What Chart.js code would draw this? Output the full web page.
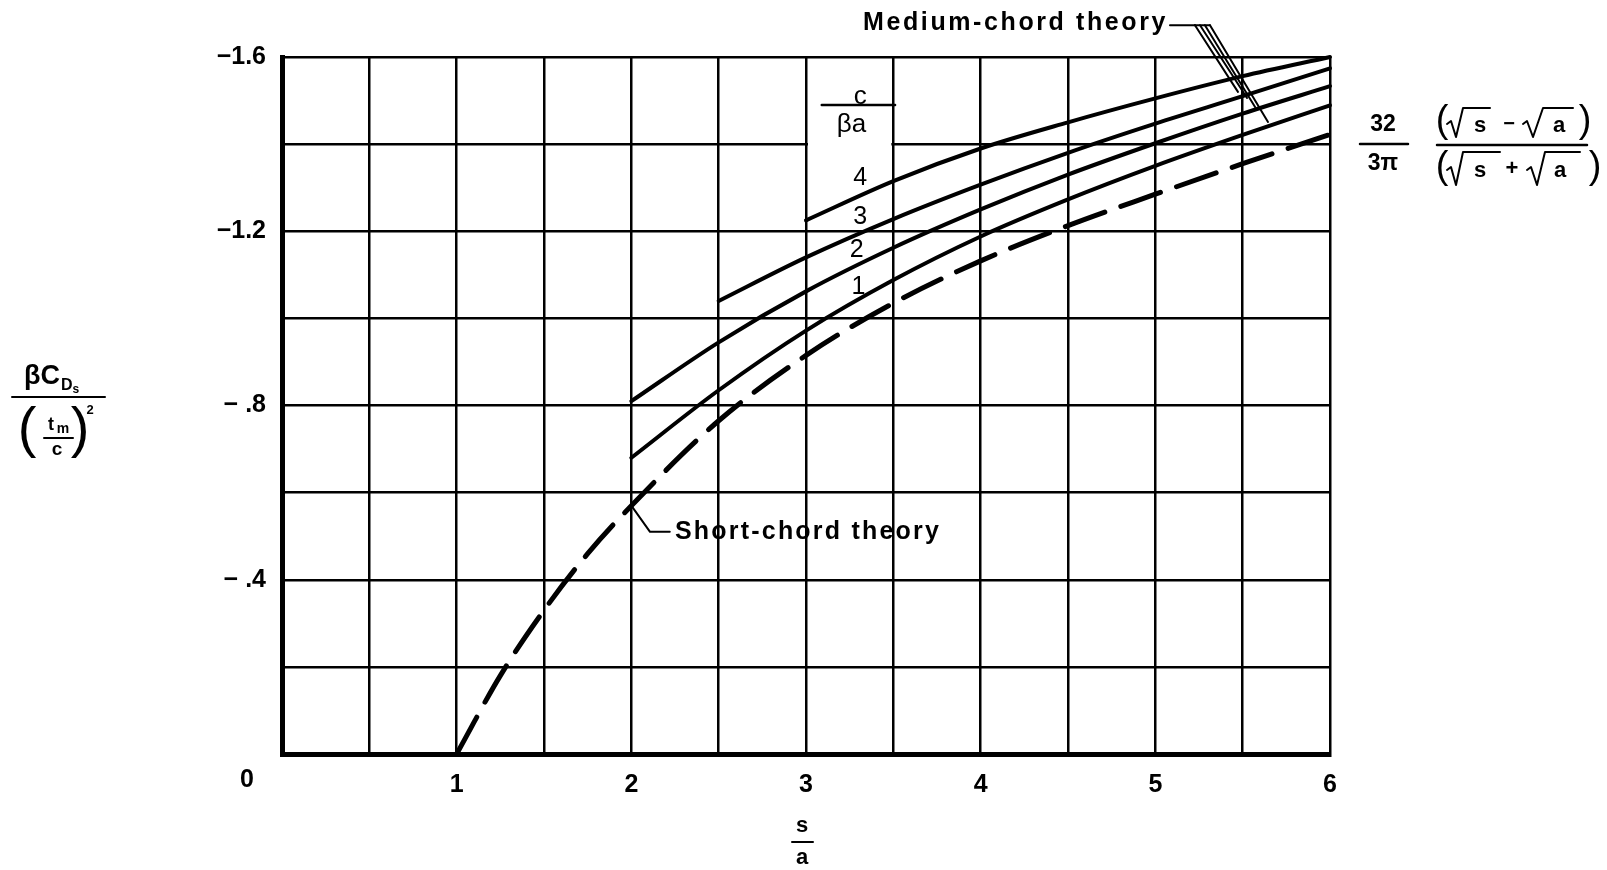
<!DOCTYPE html>
<html>
<head>
<meta charset="utf-8">
<script src="https://cdn.jsdelivr.net/npm/chart.js@4.4.0/dist/chart.umd.min.js"></script>
<style>
html,body{margin:0;padding:0;background:#fff;overflow:hidden}
#wrap{width:1607px;height:870px;position:relative;background:#fff}
</style>
</head>
<body>
<div id="wrap"><canvas id="c" width="1607" height="870"></canvas></div>
<script>
// ---- data ----
const sShort = [1, 1.25, 1.5, 1.75, 2, 2.5, 3, 3.5, 4, 4.5, 5, 5.5, 6];
const shortChord = [0, -0.18, -0.33, -0.46, -0.57, -0.765, -0.915, -1.035, -1.132, -1.213, -1.285, -1.355, -1.422];

const sMed1 = [2, 2.5, 3, 3.5, 4, 4.5, 5, 5.5, 6];
const medium1 = [-0.68, -0.835, -0.972, -1.088, -1.188, -1.273, -1.35, -1.421, -1.489];

const sMed2 = [2, 2.5, 3, 3.5, 4, 4.5, 5, 5.5, 6];
const medium2 = [-0.81, -0.945, -1.062, -1.162, -1.25, -1.33, -1.402, -1.47, -1.533];

const sMed3 = [2.5, 3, 3.5, 4, 4.5, 5, 5.5, 6];
const medium3 = [-1.04, -1.14, -1.228, -1.307, -1.38, -1.447, -1.51, -1.574];

const sMed4 = [3, 3.5, 4, 4.5, 5, 5.5, 6];
const medium4 = [-1.225, -1.315, -1.39, -1.45, -1.505, -1.556, -1.60];

const xTickLabels = {1:'1', 2:'2', 3:'3', 4:'4', 5:'5', 6:'6'};
const yTickLabels = {'-1.6':'−1.6', '-1.2':'−1.2', '-0.8':'− .8', '-0.4':'− .4'};
const curveLabels = ['4', '3', '2', '1'];
const curveLabelPos = [[3.31, -1.322], [3.31, -1.233], [3.29, -1.157], [3.30, -1.072]];

const FONT = '"Liberation Sans", Arial, sans-serif';

function pts(xs, ys){ return xs.map((x,i)=>({x:x, y:ys[i]})); }

function txt(ctx, s, x, y, font, align, base, ls){
  ctx.save();
  ctx.font = font; ctx.textAlign = align || 'center'; ctx.textBaseline = base || 'middle';
  ctx.letterSpacing = ls || '0px';
  ctx.fillStyle = '#000';
  ctx.fillText(s, x, y);
  const w = ctx.measureText(s).width;
  ctx.restore();
  return w;
}
function poly(ctx, p, w){
  ctx.save();
  ctx.strokeStyle = '#000'; ctx.lineWidth = w; ctx.lineCap = 'round'; ctx.lineJoin = 'round';
  ctx.beginPath();
  p.forEach((q,i)=> i ? ctx.lineTo(q[0], q[1]) : ctx.moveTo(q[0], q[1]));
  ctx.stroke();
  ctx.restore();
}

const annot = {
  id: 'annot',
  beforeDatasetsDraw(chart){
    const ctx = chart.ctx, xs = chart.scales.x, ys = chart.scales.y;
    // white label box between s=3 and s=3.5 at the top
    const x0 = xs.getPixelForValue(3) + 2, x1 = xs.getPixelForValue(3.5) - 2;
    const y0 = ys.getPixelForValue(-1.6) + 2, y1 = ys.getPixelForValue(-1.27);
    ctx.save(); ctx.fillStyle = '#fff'; ctx.fillRect(x0, y0, x1 - x0, y1 - y0); ctx.restore();
  },
  afterDraw(chart){
    const ctx = chart.ctx, xs = chart.scales.x, ys = chart.scales.y;
    const P = (s, v) => [xs.getPixelForValue(s), ys.getPixelForValue(v)];

    // c / (beta a) label
    let p = P(3.31, -1.508); txt(ctx, 'c', p[0], p[1], '26px ' + FONT);
    let a = P(3.09, -1.49), b = P(3.51, -1.49); poly(ctx, [a, b], 2.5);
    p = P(3.26, -1.444); txt(ctx, 'βa', p[0], p[1], '26px ' + FONT);
    curveLabels.forEach((l, i) => {
      const q = P(curveLabelPos[i][0], curveLabelPos[i][1]);
      txt(ctx, l, q[0], q[1], '25px ' + FONT);
    });

    // Short-chord theory
    const s0 = P(2, -0.57), s1 = P(2.107, -0.51), s2 = P(2.22, -0.51);
    poly(ctx, [s0, s1, s2], 2);
    p = P(2.25, -0.51);
    txt(ctx, 'Short-chord theory', p[0], p[1], 'bold 25px ' + FONT, 'left', 'middle', '2.2px');

    // Medium-chord theory
    txt(ctx, 'Medium-chord theory', 1168, 23, 'bold 25px ' + FONT, 'right', 'middle', '2.6px');
    const starts = [[5.227,-1.673],[5.256,-1.673],[5.284,-1.673],[5.313,-1.673]];
    const ends = [[5.473,-1.52],[5.525,-1.506],[5.571,-1.485],[5.645,-1.451]];
    const st0 = P(starts[0][0], starts[0][1]);
    poly(ctx, [[1170, st0[1]], st0], 2);
    poly(ctx, [st0, P(starts[3][0], starts[3][1])], 2);
    starts.forEach((s, i) => poly(ctx, [P(s[0], s[1]), P(ends[i][0], ends[i][1])], 2));

    // Zero at the corner
    txt(ctx, '0', 247, 780, 'bold 25px ' + FONT);

    // y-axis title: beta C_Ds / (t_m / c)^2
    const wbc = txt(ctx, 'βC', 24, 377, 'bold 27px ' + FONT, 'left');
    const wd = txt(ctx, 'D', 24 + wbc + 1, 386, 'bold 16px ' + FONT, 'left');
    txt(ctx, 's', 24 + wbc + 1 + wd, 390, 'bold 12px ' + FONT, 'left');
    poly(ctx, [[12, 397], [105, 397]], 2);
    txt(ctx, '(', 27, 431, '56px ' + FONT);
    txt(ctx, ')', 80, 431, '56px ' + FONT);
    txt(ctx, 't', 51, 425, 'bold 18px ' + FONT);
    txt(ctx, 'm', 63, 429, 'bold 14px ' + FONT);
    poly(ctx, [[44, 438], [73, 438]], 2);
    txt(ctx, 'c', 57, 450, 'bold 19px ' + FONT);
    txt(ctx, '2', 90, 410, 'bold 13px ' + FONT);

    // x-axis title: s / a
    txt(ctx, 's', 802, 826, 'bold 22px ' + FONT);
    poly(ctx, [[792, 842], [813, 842]], 2);
    txt(ctx, 'a', 802, 858, 'bold 22px ' + FONT);

    // right-hand formula
    txt(ctx, '32', 1383, 125, 'bold 23px ' + FONT);
    poly(ctx, [[1360, 144], [1408, 144]], 2.5);
    txt(ctx, '3π', 1383, 164, 'bold 23px ' + FONT);
    poly(ctx, [[1437, 145], [1587, 145]], 2.5);
    // numerator
    txt(ctx, '(', 1442, 122, '38px ' + FONT);
    poly(ctx, [[1447,124],[1451,121],[1456,137],[1463,108],[1490,108]], 2);
    txt(ctx, 's', 1480, 126, 'bold 22px ' + FONT);
    txt(ctx, '−', 1509, 124, 'bold 20px ' + FONT);
    poly(ctx, [[1523,124],[1527,121],[1533,137],[1543,108],[1573,108]], 2);
    txt(ctx, 'a', 1559, 126, 'bold 22px ' + FONT);
    txt(ctx, ')', 1585, 122, '38px ' + FONT);
    // denominator
    txt(ctx, '(', 1442, 168, '38px ' + FONT);
    poly(ctx, [[1447,170],[1451,167],[1456,185],[1463,152],[1500,152]], 2);
    txt(ctx, 's', 1480, 171, 'bold 22px ' + FONT);
    txt(ctx, '+', 1512, 169, 'bold 22px ' + FONT);
    poly(ctx, [[1527,170],[1531,167],[1537,185],[1545,152],[1580,152]], 2);
    txt(ctx, 'a', 1560, 171, 'bold 22px ' + FONT);
    txt(ctx, ')', 1595, 168, '38px ' + FONT);
  }
};

const solid = (xs, ys) => ({
  data: pts(xs, ys), borderColor: '#000', borderWidth: 4, pointRadius: 0,
  fill: false, cubicInterpolationMode: 'monotone', borderCapStyle: 'round', clip: 6
});

new Chart(document.getElementById('c'), {
  type: 'line',
  data: {
    datasets: [
      Object.assign(solid(sShort, shortChord), {borderWidth: 5, borderDash: [42, 17]}),
      solid(sMed1, medium1),
      solid(sMed2, medium2),
      solid(sMed3, medium3),
      solid(sMed4, medium4)
    ]
  },
  options: {
    responsive: false,
    devicePixelRatio: 1,
    animation: false,
    layout: {padding: {left: 0, top: 57, right: 277, bottom: 66}},
    plugins: {legend: {display: false}, tooltip: {enabled: false}},
    scales: {
      x: {
        type: 'linear', min: 0, max: 6,
        afterFit: s => { s.height = 50; },
        ticks: {
          stepSize: 0.5, autoSkip: false, maxRotation: 0, padding: 16,
          color: '#000', font: {family: FONT, size: 25, weight: 'bold'},
          callback: v => xTickLabels[v] || ''
        },
        grid: {color: '#000', lineWidth: 2.5, drawTicks: false},
        border: {display: true, color: '#000', width: 5}
      },
      y: {
        type: 'linear', min: -1.6, max: 0, reverse: true,
        afterFit: s => { s.width = 282; },
        ticks: {
          stepSize: 0.2, autoSkip: false, padding: 16,
          color: '#000', font: {family: FONT, size: 25, weight: 'bold'},
          callback: v => yTickLabels[(Math.round(v * 10) / 10).toFixed(1)] || ''
        },
        grid: {color: '#000', lineWidth: 2.5, drawTicks: false},
        border: {display: true, color: '#000', width: 5}
      }
    }
  },
  plugins: [annot]
});
</script>
</body>
</html>
